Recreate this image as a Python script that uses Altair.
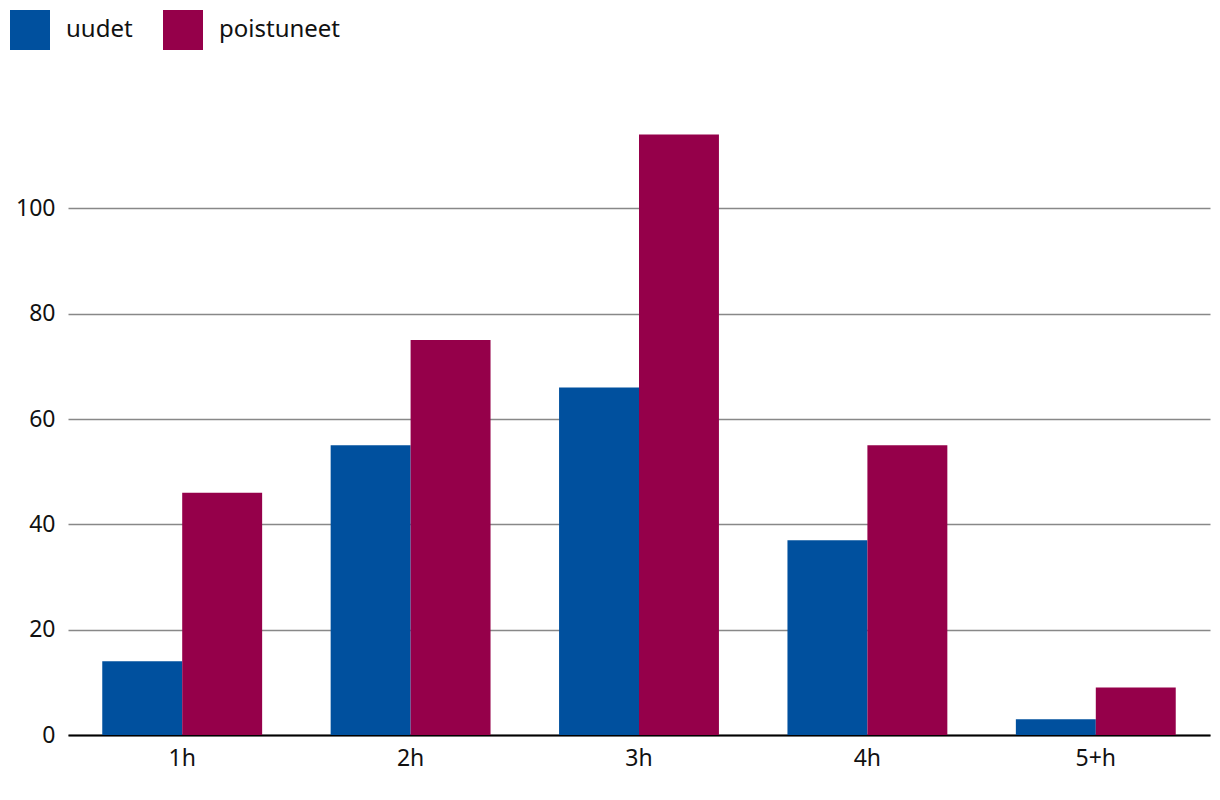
import altair as alt
import pandas as pd

categories = ["1h", "2h", "3h", "4h", "5+h"]
series = ["uudet", "poistuneet"]
uudet = [14, 55, 66, 37, 3]
poistuneet = [46, 75, 114, 55, 9]
colors = ["#00509E", "#95004A"]

rows = []
for c, u, p in zip(categories, uudet, poistuneet):
    rows.append({"cat": c, "sarja": "uudet", "arvo": u})
    rows.append({"cat": c, "sarja": "poistuneet", "arvo": p})
df = pd.DataFrame(rows)

FONT = "Noto Sans"

chart = alt.Chart(df).mark_bar().encode(
    x=alt.X("cat:N", sort=categories, title=None,
            scale=alt.Scale(paddingInner=0.3, paddingOuter=0.15),
            axis=alt.Axis(labelAngle=0, domainColor="#000000", domainWidth=2,
                          ticks=False, labelPadding=12, labelFontSize=23,
                          labelFont=FONT, labelColor="#111111")),
    xOffset=alt.XOffset("sarja:N", sort=series),
    y=alt.Y("arvo:Q", title=None,
            scale=alt.Scale(domain=[0, 120], nice=False),
            axis=alt.Axis(values=[0, 20, 40, 60, 80, 100], domain=False, ticks=False,
                          gridColor="#888888", gridWidth=1.5, labelPadding=13,
                          labelFontSize=23, labelFont=FONT, labelColor="#111111")),
    color=alt.Color("sarja:N", sort=series,
                    scale=alt.Scale(domain=series, range=colors),
                    legend=alt.Legend(title=None, orient="none", direction="horizontal",
                                      legendX=-58, legendY=-93,
                                      symbolType="square", symbolSize=1600,
                                      symbolStrokeWidth=0, symbolOpacity=1,
                                      labelFontSize=24, labelFont=FONT,
                                      labelColor="#111111", labelOffset=16,
                                      columnPadding=30)),
).properties(
    width=1142, height=632,
    autosize=alt.AutoSizeParams(type="none"),
    padding={"left": 60, "top": 95, "right": 2, "bottom": 40},
).configure_view(stroke=None)

chart.save("out.html", embed_options={"renderer": "svg", "actions": False})
